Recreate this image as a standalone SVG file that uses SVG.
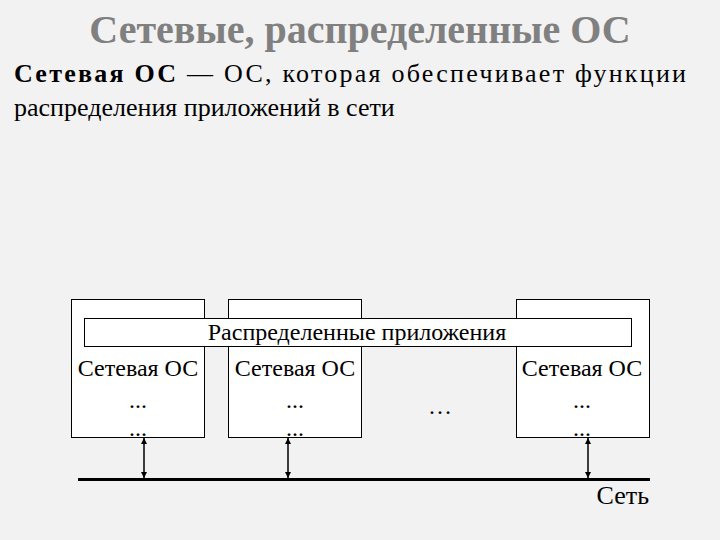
<svg xmlns="http://www.w3.org/2000/svg" width="720" height="540" viewBox="0 0 720 540" font-family="'Liberation Serif', Tinos, 'Times New Roman', 'DejaVu Serif', serif">
<style>
.b{fill:#fff;stroke:#000;stroke-width:1}
.t{font-size:24px;text-anchor:middle}
.a{stroke:#000;stroke-width:1.5;marker-start:url(#h);marker-end:url(#h)}
</style>
<defs><marker id="h" viewBox="0 0 10 10" refX="10" refY="5" markerWidth="6" markerHeight="8" orient="auto-start-reverse" markerUnits="userSpaceOnUse"><path d="M0,0L10,5L0,10z" fill="#000"/></marker></defs>
<rect width="720" height="540" fill="#f2f2f2"/>
<text x="360" y="43" font-size="40" font-weight="bold" fill="#808080" text-anchor="middle">Сетевые, распределенные ОС</text>
<text x="14" y="82" font-size="26" textLength="672" lengthAdjust="spacing"><tspan font-weight="bold">Сетевая ОС</tspan> — ОС, которая обеспечивает функции</text>
<text x="14" y="116" font-size="26">распределения приложений в сети</text>
<g id="node1"><rect class="b" x="71.5" y="299.5" width="133" height="138"/><text class="t" x="138" y="376">Сетевая ОС</text><text class="t" x="138" y="408">...</text><text class="t" x="138" y="436">...</text></g>
<g id="node2"><rect class="b" x="228.5" y="299.5" width="133" height="138"/><text class="t" x="295" y="376">Сетевая ОС</text><text class="t" x="295" y="408">...</text><text class="t" x="295" y="436">...</text></g>
<g id="node3"><rect class="b" x="516.5" y="299.5" width="133" height="138"/><text class="t" x="582" y="376">Сетевая ОС</text><text class="t" x="582" y="408">...</text><text class="t" x="582" y="436">...</text></g>
<g id="apps"><rect class="b" x="84.5" y="318.5" width="547" height="28"/><text class="t" x="357" y="340">Распределенные приложения</text></g>
<g id="dots"><text class="t" x="440" y="414">…</text></g>
<g id="net"><line x1="78" y1="479.5" x2="650" y2="479.5" stroke="#000" stroke-width="3"/><text x="649" y="504" font-size="26" text-anchor="end">Сеть</text></g>
<g id="connectors">
<line class="a" x1="144" y1="438" x2="144" y2="478"/>
<line class="a" x1="288" y1="438" x2="288" y2="478"/>
<line class="a" x1="588" y1="438" x2="588" y2="478"/>
</g>
</svg>
